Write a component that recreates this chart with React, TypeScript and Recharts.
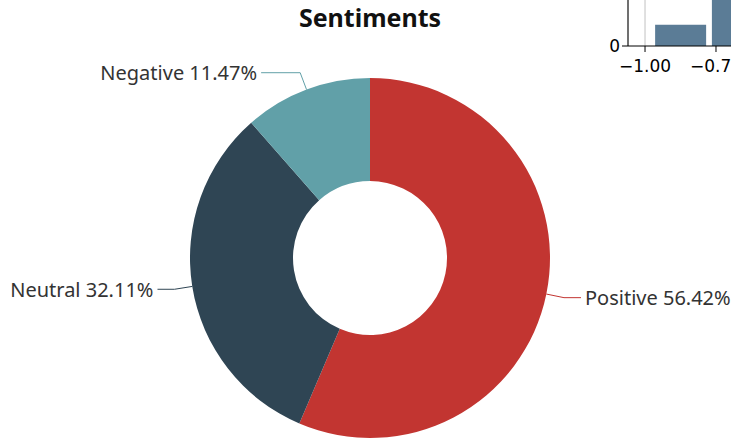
import React from 'react';
import { PieChart, Pie, Cell, BarChart, Bar, XAxis, YAxis, CartesianGrid } from 'recharts';

const sentimentNames = ['Positive', 'Neutral', 'Negative'];
const sentimentShares = [56.42, 32.11, 11.47];
const sentimentColors = ['#c23531', '#2f4554', '#61a0a8'];

// only the corner of the neighbouring histogram is visible
const binCenters = [-0.875, -0.675];
const binCounts = [47, 260];
const histTicks = [-1, -0.75, -0.5, -0.25, 0];

const pieData = sentimentNames.map((name, i) => ({ name, value: sentimentShares[i] }));
const histData = binCenters.map((x, i) => ({ x, count: binCounts[i] }));

const RADIAN = Math.PI / 180;
const LEN1 = 18;

const renderLabel = (props: any) => {
  const { cx, cy, midAngle, outerRadius, index, value, name } = props;
  const cos = Math.cos(-midAngle * RADIAN);
  const sin = Math.sin(-midAngle * RADIAN);
  const sx = cx + outerRadius * cos;
  const sy = cy + outerRadius * sin;
  const mx = cx + (outerRadius + LEN1) * cos;
  const my = cy + (outerRadius + LEN1) * sin;
  const dir = cos >= 0 ? 1 : -1;
  // labels near the top get a longer horizontal run, like the original layout
  const len2 = 17 + 30 * Math.max(0, Math.abs(sin) - 0.2);
  const ex = mx + dir * len2;
  return (
    <g>
      <path d={`M${sx},${sy}L${mx},${my}L${ex},${my}`} stroke={sentimentColors[index]} fill="none" strokeWidth={1} />
      <text
        x={ex + dir * 4}
        y={my}
        textAnchor={dir > 0 ? 'start' : 'end'}
        dominantBaseline="central"
        fill="#333"
        fontSize={20}
        fontFamily="'Noto Sans', sans-serif"
      >
        {`${name} ${Number(value).toFixed(2)}%`}
      </text>
    </g>
  );
};

const fmtTick = (v: number) => (v < 0 ? '\u2212' : '') + Math.abs(v).toFixed(2);

export default function App() {
  return (
    <div style={{ position: 'absolute', left: 0, top: 0, width: 731, height: 439, overflow: 'hidden', background: '#fff' }}>
      <div style={{ position: 'absolute', left: 578, top: -314 }}>
        <BarChart width={700} height={400} data={histData} margin={{ top: 0, right: 0, left: 0, bottom: 0 }}>
          <CartesianGrid horizontal={false} stroke="#d6d6d6" strokeWidth={1.5} />
          <XAxis
            dataKey="x"
            type="number"
            domain={[-1.06, 1.23]}
            ticks={histTicks}
            tickFormatter={fmtTick}
            height={40}
            stroke="#000"
            tickSize={6}
            tickMargin={8}
            tick={{ fill: '#000', fontSize: 17, fontFamily: "'DejaVu Sans'" }}
          />
          <YAxis
            type="number"
            domain={[0, 800]}
            ticks={[0, 200, 400, 600, 800]}
            width={50}
            stroke="#000"
            tickSize={6}
            tick={{ fill: '#000', fontSize: 17, fontFamily: "'DejaVu Sans'" }}
          />
          <Bar dataKey="count" fill="#5b7c96" barSize={51} isAnimationActive={false} />
        </BarChart>
      </div>
      <div
        style={{
          position: 'absolute',
          left: 0,
          top: 0,
          width: 740,
          textAlign: 'center',
          fontFamily: "'Noto Sans', sans-serif",
          fontWeight: 'bold',
          fontSize: 25,
          lineHeight: '34px',
          color: '#111',
        }}
      >
        Sentiments
      </div>
      <div style={{ position: 'absolute', left: 0, top: 0 }}>
        <PieChart width={731} height={439}>
          <Pie
            data={pieData}
            dataKey="value"
            nameKey="name"
            cx={365}
            cy={253}
            innerRadius={77}
            outerRadius={180}
            startAngle={90}
            endAngle={-270}
            stroke="none"
            label={renderLabel}
            labelLine={false}
            isAnimationActive={false}
          >
            {pieData.map((d, i) => (
              <Cell key={d.name} fill={sentimentColors[i]} />
            ))}
          </Pie>
        </PieChart>
      </div>
    </div>
  );
}
